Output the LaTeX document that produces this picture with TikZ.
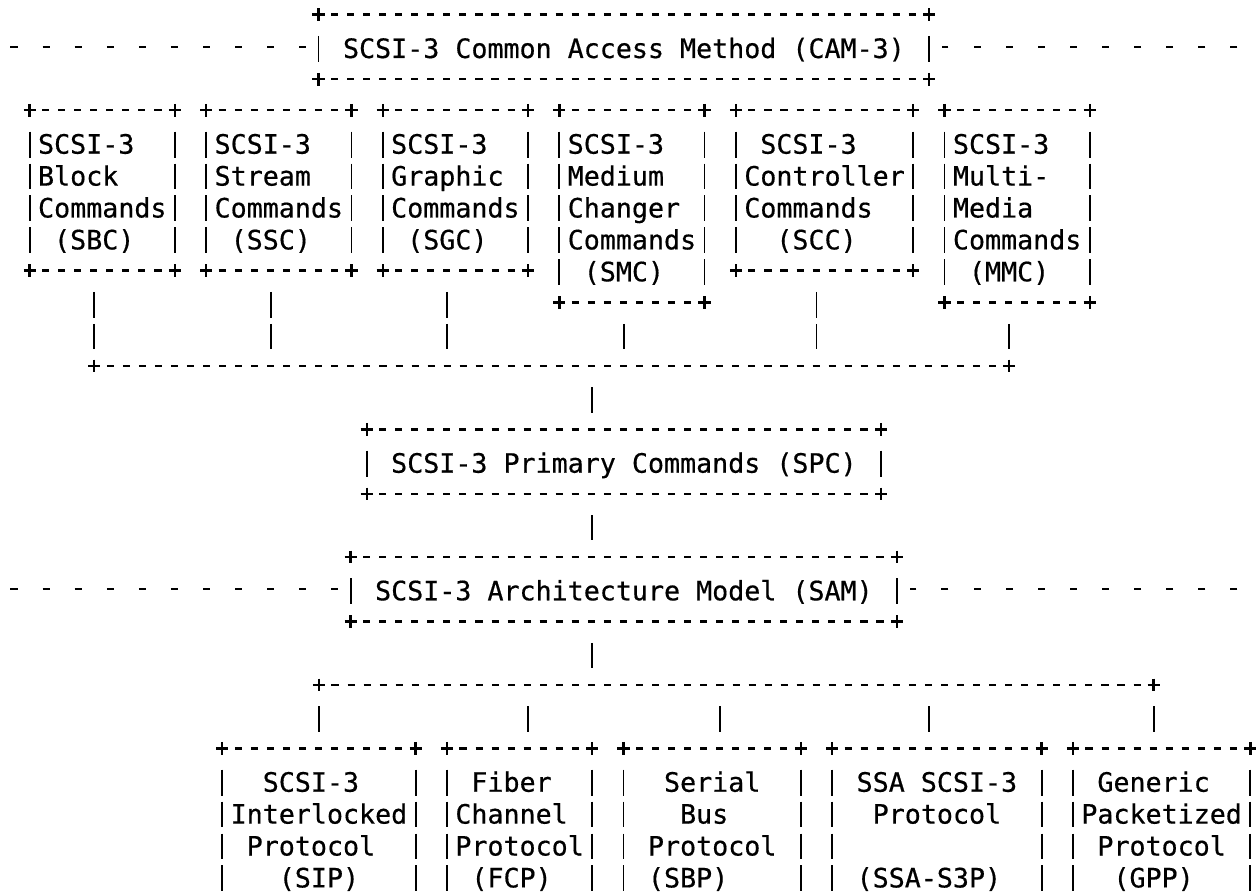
\documentclass[tikz,border=0pt]{standalone}
\usepackage{fontspec}
\newfontfamily\asciifont{DejaVu Sans Mono}[FakeBold=0.5]
\usetikzlibrary{calc, fit}
\tikzset{
txt/.style={anchor=base west, inner sep=0pt, font=\asciifont\fontsize{13.33pt}{15.95pt}\selectfont\frenchspacing}, % the words in a box
cell/.style={inner sep=0pt}, % a box, exactly from + to +
hdash/.style={line width=1.2pt, dash pattern=on 3.53pt off 4.49pt, shorten <=6.26pt, shorten >=6.26pt}, % +-------+
sidedash/.style={line width=1.2pt, dash pattern=on 3.53pt off 12.52pt, shorten >=6.26pt}, % - - - - up to a box
vbar/.style={line width=0.9pt, dash pattern=on 12.92pt off 3.03pt, shorten <=10.69pt, shorten >=8.29pt}, % one | per line
corner/.pic={\draw[line width=1.2pt] (-0.38,0) -- (0.38,0) (0,-0.2) -- (0,0.2);}, % the + sign
}
\newcommand\lines[1]{\begin{tabular}[t]{@{}l@{}}#1\end{tabular}}
\newcommand\asciibox[1]{%
  \draw[hdash] (#1.north west) -- (#1.north east);
  \draw[hdash] (#1.south west) -- (#1.south east);
  \draw[vbar] (#1.north west) -- (#1.south west);
  \draw[vbar] (#1.north east) -- (#1.south east);
  \foreach \c in {north west, north east, south west, south east} \pic at (#1.\c) {corner};
}

\begin{document}
\begin{tikzpicture}[x=8.025pt, y=-15.95pt]
\fill[white] (-0.872,-0.47) rectangle (77.38,27.55);
\useasboundingbox (-0.872,-0.47) rectangle (77.38,27.55);
\clip (-0.872,-0.47) rectangle (77.38,27.55);

% boxes on the character grid: (column, line)
\node[cell, fit={(19,0) (57,2)}] (cam) {};
\node[cell, fit={(1,3) (10,8)}] (sbc) {};
\node[cell, fit={(12,3) (21,8)}] (ssc) {};
\node[cell, fit={(23,3) (32,8)}] (sgc) {};
\node[cell, fit={(34,3) (43,9)}] (smc) {};
\node[cell, fit={(45,3) (56,8)}] (scc) {};
\node[cell, fit={(58,3) (67,9)}] (mmc) {};
\node[cell, fit={(22,13) (54,15)}] (spc) {};
\node[cell, fit={(21,17) (55,19)}] (sam) {};
\node[cell, fit={(13,23) (25,28)}] (sip) {};
\node[cell, fit={(27,23) (36,28)}] (fcp) {};
\node[cell, fit={(38,23) (49,28)}] (sbp) {};
\node[cell, fit={(51,23) (64,28)}] (ssa) {};
\node[cell, fit={(66,23) (77,28)}] (gpp) {};

\foreach \b in {cam, sbc, ssc, sgc, smc, scc, mmc, spc, sam, sip, fcp, sbp, ssa, gpp}
  {\asciibox{\b}}

% texts
\node[txt] (camT) at ($(cam.north west)+(0.5,1.36)$) {~SCSI-3 Common Access Method (CAM-3)};
\node[txt] (sbcT) at ($(sbc.north west)+(0.5,1.36)$) {\lines{SCSI-3\\Block\\Commands\\~(SBC)}};
\node[txt] (sscT) at ($(ssc.north west)+(0.5,1.36)$) {\lines{SCSI-3\\Stream\\Commands\\~(SSC)}};
\node[txt] (sgcT) at ($(sgc.north west)+(0.5,1.36)$) {\lines{SCSI-3\\Graphic\\Commands\\~(SGC)}};
\node[txt] (smcT) at ($(smc.north west)+(0.5,1.36)$) {\lines{SCSI-3\\Medium\\Changer\\Commands\\~(SMC)}};
\node[txt] (sccT) at ($(scc.north west)+(0.5,1.36)$) {\lines{~SCSI-3\\Controller\\Commands\\~~(SCC)}};
\node[txt] (mmcT) at ($(mmc.north west)+(0.5,1.36)$) {\lines{SCSI-3\\Multi-\\Media\\Commands\\~(MMC)}};
\node[txt] (spcT) at ($(spc.north west)+(0.5,1.36)$) {~SCSI-3 Primary Commands (SPC)};
\node[txt] (samT) at ($(sam.north west)+(0.5,1.36)$) {~SCSI-3 Architecture Model (SAM)};
\node[txt] (sipT) at ($(sip.north west)+(0.5,1.36)$) {\lines{~~SCSI-3\\Interlocked\\~Protocol\\~~~(SIP)}};
\node[txt] (fcpT) at ($(fcp.north west)+(0.5,1.36)$) {\lines{~Fiber\\Channel\\Protocol\\~(FCP)}};
\node[txt] (sbpT) at ($(sbp.north west)+(0.5,1.36)$) {\lines{~~Serial\\~~~Bus\\~Protocol\\~(SBP)}};
\node[txt] (ssaT) at ($(ssa.north west)+(0.5,1.36)$) {\lines{~SSA SCSI-3\\~~Protocol\\ \\~(SSA-S3P)}};
\node[txt] (gppT) at ($(gpp.north west)+(0.5,1.36)$) {\lines{~Generic\\Packetized\\~Protocol\\~~(GPP)}};

% - - - - on both sides of CAM and SAM
\coordinate (camL) at (-0.22,1);
\coordinate (camR) at (76.22,1);
\coordinate (samL) at (-0.22,18);
\coordinate (samR) at (76.22,18);
\draw[sidedash] (camL) -- (cam.west);
\draw[sidedash] (camR) -- (cam.east);
\draw[sidedash] (samL) -- (sam.west);
\draw[sidedash] (samR) -- (sam.east);

% command sets down to the common line
\foreach \n/\c in {1/5, 2/16, 3/27, 4/38, 5/50, 6/62}
  \coordinate (cb\n) at (\c,11);
\coordinate (cbx) at (36,11);
\foreach \b/\n in {sbc/1, ssc/2, sgc/3, smc/4, scc/5, mmc/6}
  \draw[vbar] (\b.south -| cb\n) -- (cb\n);
\draw[hdash] (cb1) -- (cb6);
\pic at (cb1) {corner};
\pic at (cb6) {corner};

\draw[vbar] (cbx) -- (cbx |- spc.north);
\draw[vbar] (spc.south -| cbx) -- (sam.north -| cbx);

% protocols
\foreach \n/\c in {1/19, 2/32, 3/44, 4/57, 5/71}
  \coordinate (pb\n) at (\c,21);
\coordinate (pbx) at (36,21);
\draw[vbar] (sam.south -| pbx) -- (pbx);
\draw[hdash] (pb1) -- (pb5);
\pic at (pb1) {corner};
\pic at (pb5) {corner};
\foreach \b/\n in {sip/1, fcp/2, sbp/3, ssa/4, gpp/5}
  \draw[vbar] (pb\n) -- (pb\n |- \b.north);
\end{tikzpicture}
\end{document}
